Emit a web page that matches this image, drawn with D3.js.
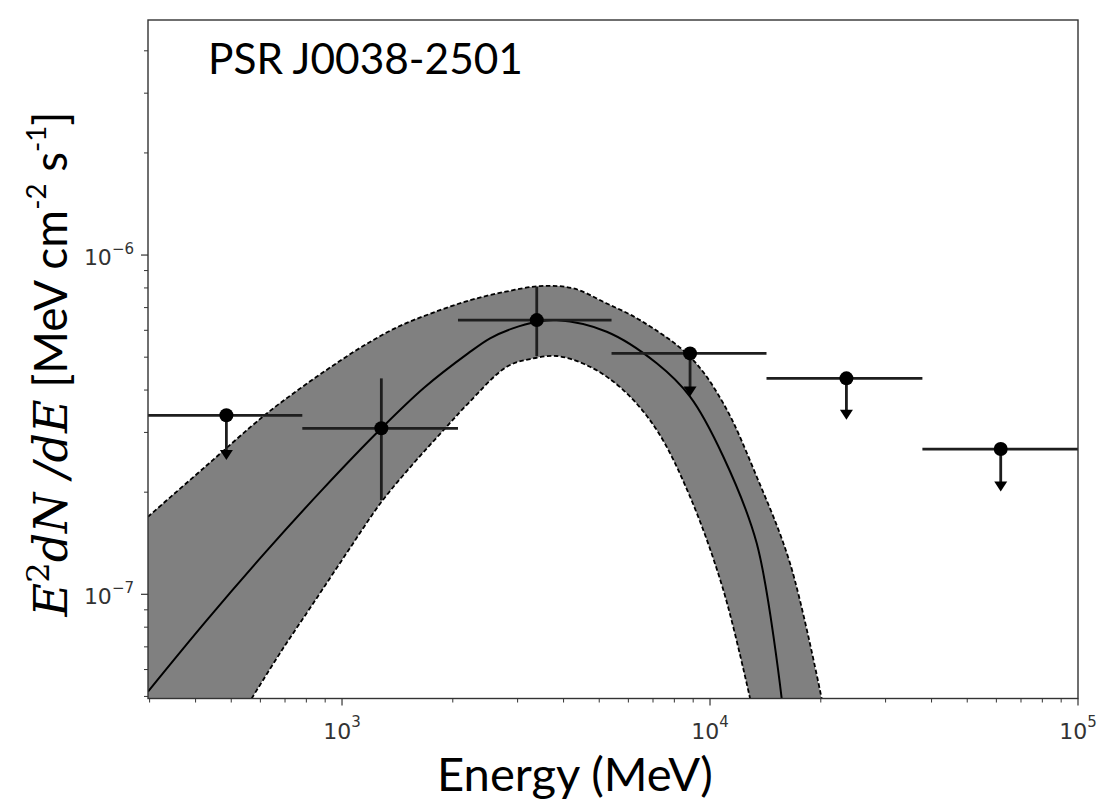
<!DOCTYPE html>
<html>
<head>
<meta charset="utf-8">
<script src="https://cdn.jsdelivr.net/npm/d3@7"></script>
<style>
body { margin: 0; background: #fff; }
svg { display: block; }
</style>
</head>
<body>
<svg id="chart" width="1112" height="810"></svg>
<script>
// SED points (energy bins, flux, errors, upper limits)
const binEdges = [297, 780, 2066, 5400, 14240, 37770, 100000];
const pointE = [485, 1279, 3382, 8826, 23480, 61660];
const pointFlux = [3.37e-7, 3.085e-7, 6.43e-7, 5.13e-7, 4.33e-7, 2.68e-7];
const errLow = [null, 1.896e-7, 5.04e-7, null, null, null];
const errHigh = [null, 4.33e-7, 8.06e-7, null, null, null];
const isUpperLimit = [true, false, false, true, true, true];
const arrowTip = [2.49e-7, null, null, 3.83e-7, 3.27e-7, 2.01e-7];

// best fit model and its band
const modelE = [297, 427, 618, 888, 1279, 1671, 2200, 2525, 2897, 3382, 3832, 5240, 7165, 8826, 10870, 13395, 15660];
const modelFlux = [5.17e-8, 8.34e-8, 1.327e-7, 2.045e-7, 3.085e-7, 4.063e-7, 5.13e-7, 5.683e-7, 6.07e-7, 6.36e-7, 6.43e-7, 5.94e-7, 4.796e-7, 3.824e-7, 2.543e-7, 1.413e-7, 4.93e-8];
const bandHiE = [297, 427, 617, 759, 935, 1153, 1420, 1748, 2200, 2754, 3451, 4250, 5240, 6452, 8826, 10870, 13395, 16500, 20110];
const bandHiFlux = [1.693e-7, 2.388e-7, 3.376e-7, 4.0e-7, 4.685e-7, 5.43e-7, 6.146e-7, 6.733e-7, 7.33e-7, 7.78e-7, 8.1e-7, 7.975e-7, 7.2e-7, 6.43e-7, 5.014e-7, 3.655e-7, 2.221e-7, 1.234e-7, 4.93e-8];
const bandLoE = [568, 684, 843, 1038, 1279, 1576, 1862, 2200, 2803, 3243, 3832, 4720, 5813, 7165, 8826, 10870, 12850];
const bandLoFlux = [4.93e-8, 6.8e-8, 9.55e-8, 1.341e-7, 1.87e-7, 2.454e-7, 2.998e-7, 3.65e-7, 4.685e-7, 4.935e-7, 5.04e-7, 4.685e-7, 4.0e-7, 3.05e-7, 1.939e-7, 1.029e-7, 4.93e-8];

const xMajor = [1e3, 1e4, 1e5];
const xMajorExp = ["3", "4", "5"];
const yMajor = [1e-7, 1e-6];
const yMajorExp = ["\u22127", "\u22126"];

const titleText = "PSR J0038-2501";
const xLabelText = "Energy (MeV)";

let plotLeft = 148, plotRight = 1078, plotTop = 20, plotBottom = 698.5;

let svg = d3.select("#chart");

let x = d3.scaleLog().domain([297, 1e5]).range([plotLeft, plotRight]);
let y = d3.scaleLog().domain([4.93e-8, 4.93e-6]).range([plotBottom, plotTop]);

svg.append("defs").append("clipPath").attr("id", "plotclip")
    .append("rect")
    .attr("x", plotLeft).attr("y", plotTop)
    .attr("width", plotRight - plotLeft).attr("height", plotBottom - plotTop);

let plot = svg.append("g").attr("clip-path", "url(#plotclip)");

let line = d3.line()
    .x(d => x(d[0]))
    .y(d => y(d[1]))
    .curve(d3.curveCatmullRom);

let hi = d3.zip(bandHiE, bandHiFlux);
let lo = d3.zip(bandLoE, bandLoFlux);

// band polygon: upper edge, along the bottom, lower edge backwards, bottom to the left side
let yb = plotBottom + 3;
let bandPath = line(hi)
    + "L" + x(bandHiE[bandHiE.length - 1]) + "," + yb
    + "L" + x(bandLoE[bandLoE.length - 1]) + "," + yb
    + "L" + line(lo.slice().reverse()).slice(1)
    + "L" + x(bandLoE[0]) + "," + yb
    + "L" + (plotLeft - 2) + "," + yb
    + "L" + (plotLeft - 2) + "," + y(bandHiFlux[0])
    + "Z";

plot.append("path")
    .attr("d", bandPath)
    .attr("fill", "#808080")
    .attr("stroke", "none");

plot.selectAll(".edge")
    .data([hi, lo])
    .enter()
    .append("path")
    .attr("class", "edge")
    .attr("d", d => line(d))
    .attr("fill", "none")
    .attr("stroke", "#000")
    .attr("stroke-width", 1.8)
    .attr("stroke-dasharray", "4.5,2.5");

plot.append("path")
    .attr("d", line(d3.zip(modelE, modelFlux)))
    .attr("fill", "none")
    .attr("stroke", "#000")
    .attr("stroke-width", 2);

// data points
let pts = pointE.map((e, i) => ({
    e: e, f: pointFlux[i],
    lo: binEdges[i], hi: binEdges[i + 1],
    eLo: errLow[i], eHi: errHigh[i],
    ul: isUpperLimit[i], tip: arrowTip[i]
}));

let barColor = "#1e1e1e";
let gp = plot.append("g");

gp.selectAll(".xbar")
    .data(pts)
    .enter()
    .append("line")
    .attr("x1", d => x(d.lo))
    .attr("x2", d => x(d.hi))
    .attr("y1", d => y(d.f))
    .attr("y2", d => y(d.f))
    .attr("stroke", barColor)
    .attr("stroke-width", 2.8);

gp.selectAll(".ybar")
    .data(pts.filter(d => !d.ul))
    .enter()
    .append("line")
    .attr("x1", d => x(d.e))
    .attr("x2", d => x(d.e))
    .attr("y1", d => y(d.eHi))
    .attr("y2", d => y(d.eLo))
    .attr("stroke", barColor)
    .attr("stroke-width", 2.8);

let headH = 10, headW = 6.5;
gp.selectAll(".ulline")
    .data(pts.filter(d => d.ul))
    .enter()
    .append("line")
    .attr("x1", d => x(d.e))
    .attr("x2", d => x(d.e))
    .attr("y1", d => y(d.f))
    .attr("y2", d => y(d.tip) - headH + 1)
    .attr("stroke", barColor)
    .attr("stroke-width", 2.8);

gp.selectAll(".ulhead")
    .data(pts.filter(d => d.ul))
    .enter()
    .append("path")
    .attr("d", d => {
        let cx = x(d.e), ty = y(d.tip);
        return `M${cx - headW},${ty - headH}L${cx + headW},${ty - headH}L${cx},${ty}Z`;
    })
    .attr("fill", "#000");

gp.selectAll(".dot")
    .data(pts)
    .enter()
    .append("circle")
    .attr("cx", d => x(d.e))
    .attr("cy", d => y(d.f))
    .attr("r", 7)
    .attr("fill", "#000");

// frame
svg.append("rect")
    .attr("x", plotLeft).attr("y", plotTop)
    .attr("width", plotRight - plotLeft).attr("height", plotBottom - plotTop)
    .attr("fill", "none")
    .attr("stroke", "#333")
    .attr("stroke-width", 1.4);

// ticks
let tickColor = "#333";
let xAll = x.ticks();
let xMinor = xAll.filter(v => xMajor.indexOf(v) < 0);
svg.selectAll(".xminor")
    .data(xMinor)
    .enter()
    .append("line")
    .attr("x1", d => x(d)).attr("x2", d => x(d))
    .attr("y1", plotBottom).attr("y2", plotBottom + 4)
    .attr("stroke", tickColor).attr("stroke-width", 1);
svg.selectAll(".xmajor")
    .data(xMajor)
    .enter()
    .append("line")
    .attr("x1", d => x(d)).attr("x2", d => x(d))
    .attr("y1", plotBottom).attr("y2", plotBottom + 7)
    .attr("stroke", tickColor).attr("stroke-width", 1.2);

let yAll = y.ticks();
let yMinor = yAll.filter(v => !yMajor.some(m => Math.abs(m - v) / m < 1e-6));
svg.selectAll(".yminor")
    .data(yMinor)
    .enter()
    .append("line")
    .attr("x1", plotLeft - 4).attr("x2", plotLeft)
    .attr("y1", d => y(d)).attr("y2", d => y(d))
    .attr("stroke", tickColor).attr("stroke-width", 1);
svg.selectAll(".ymajor")
    .data(yMajor)
    .enter()
    .append("line")
    .attr("x1", plotLeft - 7).attr("x2", plotLeft)
    .attr("y1", d => y(d)).attr("y2", d => y(d))
    .attr("stroke", tickColor).attr("stroke-width", 1.2);

// tick labels 10^n
let tickFont = "'DejaVu Sans', sans-serif";
let xl = svg.selectAll(".xlab")
    .data(xMajor)
    .enter()
    .append("text")
    .attr("x", d => x(d))
    .attr("y", plotBottom + 40)
    .attr("text-anchor", "middle")
    .attr("font-family", tickFont)
    .attr("font-size", 22)
    .attr("fill", "#333");
xl.append("tspan").text("10");
xl.append("tspan").attr("dy", "-0.75em").attr("font-size", 15).text((d, i) => xMajorExp[i]);

let yl = svg.selectAll(".ylab")
    .data(yMajor)
    .enter()
    .append("text")
    .attr("x", plotLeft - 14)
    .attr("y", d => y(d) + 10)
    .attr("text-anchor", "end")
    .attr("font-family", tickFont)
    .attr("font-size", 22)
    .attr("fill", "#333");
yl.append("tspan").text("10");
yl.append("tspan").attr("dy", "-0.75em").attr("font-size", 15).text((d, i) => yMajorExp[i]);

// fit a text element to a target width
function fitWidth(sel, target) {
    let len = sel.node().getComputedTextLength();
    let fs = parseFloat(sel.attr("font-size"));
    sel.attr("font-size", fs * target / len);
}

let labelFont = "Lato, 'Open Sans', sans-serif";

let title = svg.append("text")
    .attr("x", 208)
    .attr("y", 73.5)
    .attr("font-family", labelFont)
    .attr("font-size", 44)
    .attr("fill", "#000")
    .text(titleText);
fitWidth(title, 315);

let xLabel = svg.append("text")
    .attr("x", 575)
    .attr("y", 791)
    .attr("text-anchor", "middle")
    .attr("font-family", labelFont)
    .attr("font-size", 40)
    .attr("fill", "#000")
    .text(xLabelText);
fitWidth(xLabel, 276);

// y label: math part in serif italic, units in sans
let yLabel = svg.append("text")
    .attr("transform", "translate(67,364) rotate(-90)")
    .attr("text-anchor", "middle")
    .attr("font-family", labelFont)
    .attr("font-size", 50)
    .attr("fill", "#000");
let serif = "'DejaVu Serif', serif";
yLabel.append("tspan").attr("font-family", serif).attr("font-style", "italic").text("E");
yLabel.append("tspan").attr("font-family", serif).style("font-size", "0.7em").attr("dy", "-0.55em").text("2");
yLabel.append("tspan").attr("font-family", serif).attr("font-style", "italic").attr("dy", "0.385em").text("dN /dE");
yLabel.append("tspan").text(" [MeV cm");
yLabel.append("tspan").style("font-size", "0.6em").attr("dy", "-0.75em").text("-2");
yLabel.append("tspan").attr("dy", "0.45em").text(" s");
yLabel.append("tspan").style("font-size", "0.6em").attr("dy", "-0.75em").text("-1");
yLabel.append("tspan").attr("dy", "0.45em").text("]");
fitWidth(yLabel, 505);
</script>
</body>
</html>
